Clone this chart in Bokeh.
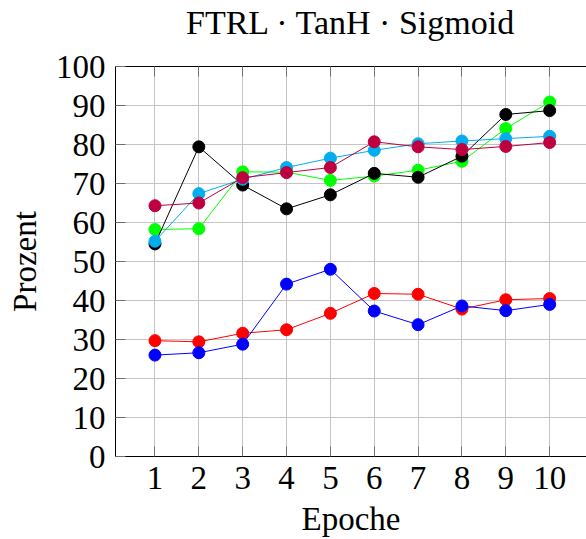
from bokeh.plotting import figure
from bokeh.models import LinearAxis, Range1d, FixedTicker, Label
from bokeh.embed import file_html
from bokeh.resources import INLINE

epochs = [1, 2, 3, 4, 5, 6, 7, 8, 9, 10]
red_vals = [29.7, 29.4, 31.6, 32.5, 36.7, 41.8, 41.6, 37.8, 40.2, 40.5]
blue_vals = [26.0, 26.6, 28.8, 44.2, 48.0, 37.3, 33.8, 38.6, 37.4, 39.0]
green_vals = [58.2, 58.4, 73.0, 72.9, 70.8, 71.9, 73.4, 75.7, 84.1, 90.9]
black_vals = [54.5, 79.4, 69.6, 63.5, 67.1, 72.6, 71.6, 77.0, 87.7, 88.7]
cyan_vals = [55.2, 67.4, 71.1, 74.1, 76.5, 78.5, 80.2, 80.9, 81.5, 82.1]
magenta_vals = [64.3, 65.0, 71.5, 72.8, 74.1, 80.7, 79.4, 78.7, 79.5, 80.5]
y_ticks = [0, 10, 20, 30, 40, 50, 60, 70, 80, 90, 100]
title_text = "FTRL · TanH · Sigmoid"

FONT = "Liberation Serif"
FS = "33px"
FRAME_W = 471

p = figure(width=586, height=539, output_backend="svg", toolbar_location=None,
           x_range=Range1d(0.1, 10.84), y_range=Range1d(0, 100),
           min_border_left=115, min_border_right=0, min_border_top=66, min_border_bottom=82)
p.outline_line_color = None
p.background_fill_color = "white"
p.border_fill_color = "white"

series = [
    (red_vals, "#ff0000"),
    (blue_vals, "#0000ff"),
    (green_vals, "#00ff00"),
    (black_vals, "#000000"),
    (cyan_vals, "#00aeef"),
    (magenta_vals, "#bf0040"),
]
for vals, col in series:
    p.line(epochs, vals, line_color=col, line_width=1)
    p.scatter(epochs, vals, size=12, fill_color=col, line_color=col)

p.xaxis.ticker = FixedTicker(ticks=epochs)
p.yaxis.ticker = FixedTicker(ticks=y_ticks)
p.xgrid.ticker = FixedTicker(ticks=epochs)
p.ygrid.ticker = FixedTicker(ticks=y_ticks)
for g in (p.xgrid, p.ygrid):
    g.grid_line_color = "#c4c4c4"
    g.grid_line_width = 1

for ax in (p.xaxis, p.yaxis):
    ax.major_tick_in = 10
    ax.major_tick_out = 0
    ax.minor_tick_line_color = None
    ax.major_tick_line_color = "#707070"
    ax.axis_line_color = "black"
    ax.major_label_text_font = FONT
    ax.major_label_text_font_size = FS
    ax.major_label_text_color = "black"
    ax.axis_label_text_font = FONT
    ax.axis_label_text_font_size = FS
    ax.axis_label_text_font_style = "normal"
    ax.axis_label_text_color = "black"

p.xaxis.major_label_standoff = 10
p.yaxis.major_label_standoff = 10
p.xaxis.axis_label = "Epoche"
p.yaxis.axis_label = "Prozent"
p.xaxis.axis_label_standoff = 9
p.yaxis.axis_label_standoff = 10

# top border with inward ticks (added after styling so it keeps no labels)
top = LinearAxis(ticker=FixedTicker(ticks=epochs), major_tick_in=10, major_tick_out=0,
                 minor_tick_line_color=None, major_tick_line_color="#707070",
                 axis_line_color="black", major_label_text_color=None,
                 major_label_standoff=0)
p.add_layout(top, "above")

title = Label(x=FRAME_W / 2, y=44, x_units="screen", y_units="screen",
              text=title_text, text_align="center", text_baseline="middle",
              text_font=FONT, text_font_size="34px", text_color="black")
p.add_layout(title, "above")

open("out.html", "w").write(file_html(p, INLINE))
